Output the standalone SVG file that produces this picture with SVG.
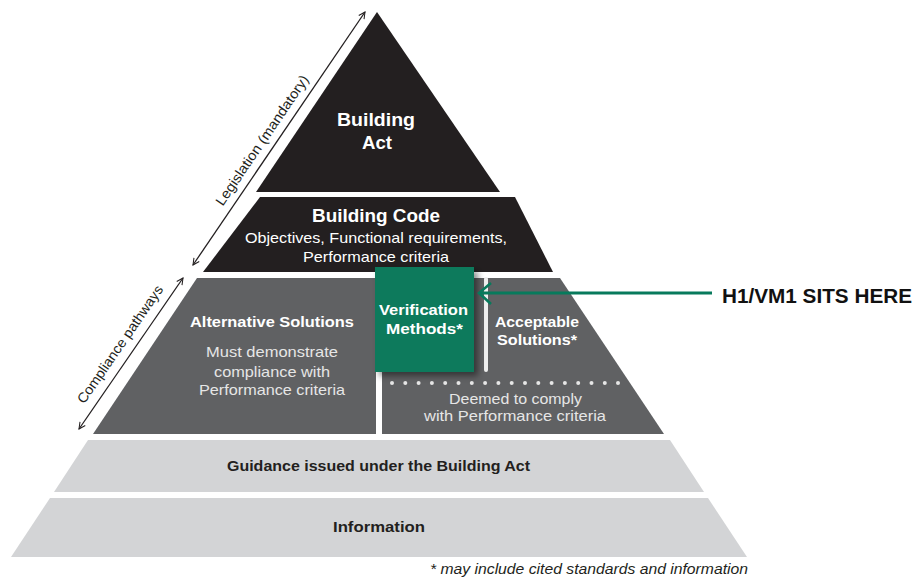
<svg xmlns="http://www.w3.org/2000/svg" width="918" height="580" viewBox="0 0 918 580">
<style>
text{font-family:"Liberation Sans",Arial,sans-serif}
.w{fill:#ffffff;font-weight:bold;text-anchor:middle}
.r{fill:#e6e6e6;text-anchor:middle;font-size:15px}
.d{fill:#231f20;font-weight:bold;text-anchor:middle;font-size:15px}
.ax{stroke:#231f20;stroke-width:1.3;fill:none}
</style>
<defs>
<marker id="ch" viewBox="0 0 10 10" refX="9" refY="5" markerWidth="8" markerHeight="8" markerUnits="userSpaceOnUse" orient="auto-start-reverse">
<path d="M1,1 L9,5 L1,9" fill="none" stroke="#231f20" stroke-width="1.3"/>
</marker>
<filter id="sh" x="-20%" y="-20%" width="150%" height="150%">
<feDropShadow dx="4" dy="4" stdDeviation="3" flood-color="#000" flood-opacity="0.45"/>
</filter>
</defs>
<rect width="918" height="580" fill="#ffffff"/>

<g id="building-act">
<polygon points="377,12 256,192 500,192" fill="#231f20"/>
<text class="w" x="376" y="126" font-size="19" textLength="78" lengthAdjust="spacingAndGlyphs">Building</text>
<text class="w" x="377" y="149" font-size="19" textLength="30" lengthAdjust="spacingAndGlyphs">Act</text>
</g>

<g id="building-code">
<polygon points="260,197 515,197 553,272 203,272" fill="#231f20"/>
<text class="w" x="376" y="222" font-size="19" textLength="128" lengthAdjust="spacingAndGlyphs">Building Code</text>
<text x="376" y="243" fill="#ffffff" text-anchor="middle" font-size="15" textLength="262" lengthAdjust="spacingAndGlyphs">Objectives, Functional requirements,</text>
<text x="376" y="262" fill="#ffffff" text-anchor="middle" font-size="15" textLength="146" lengthAdjust="spacingAndGlyphs">Performance criteria</text>
</g>

<g id="alternative-solutions">
<polygon points="197,278 376,278 376,434 93,434" fill="#606163"/>
<text class="w" x="272" y="327" font-size="15.5" textLength="164" lengthAdjust="spacingAndGlyphs">Alternative Solutions</text>
<text class="r" x="272" y="357" textLength="132" lengthAdjust="spacingAndGlyphs">Must demonstrate</text>
<text class="r" x="272" y="377" textLength="116" lengthAdjust="spacingAndGlyphs">compliance with</text>
<text class="r" x="272" y="395" textLength="146" lengthAdjust="spacingAndGlyphs">Performance criteria</text>
</g>

<g id="acceptable-solutions">
<polygon points="382,278 560,278 664,434 382,434" fill="#606163"/>
<line x1="486" y1="279" x2="486" y2="370" stroke="#eeeeee" stroke-width="4" stroke-linecap="round"/>
<text class="w" x="537" y="327" font-size="15.5" textLength="84" lengthAdjust="spacingAndGlyphs">Acceptable</text>
<text class="w" x="537" y="345" font-size="15.5" textLength="80" lengthAdjust="spacingAndGlyphs">Solutions*</text>
<g fill="#e6e6e6">
<circle cx="392" cy="383" r="2"/><circle cx="405.3" cy="383" r="2"/><circle cx="418.6" cy="383" r="2"/><circle cx="431.9" cy="383" r="2"/><circle cx="445.2" cy="383" r="2"/><circle cx="458.5" cy="383" r="2"/><circle cx="471.8" cy="383" r="2"/><circle cx="485.1" cy="383" r="2"/><circle cx="498.4" cy="383" r="2"/><circle cx="511.7" cy="383" r="2"/><circle cx="525" cy="383" r="2"/><circle cx="538.3" cy="383" r="2"/><circle cx="551.6" cy="383" r="2"/><circle cx="564.9" cy="383" r="2"/><circle cx="578.2" cy="383" r="2"/><circle cx="591.5" cy="383" r="2"/><circle cx="604.8" cy="383" r="2"/><circle cx="618" cy="383" r="2"/>
</g>
<text class="r" x="515.5" y="404" font-size="14" textLength="133" lengthAdjust="spacingAndGlyphs">Deemed to comply</text>
<text class="r" x="515" y="421" font-size="14" textLength="182" lengthAdjust="spacingAndGlyphs">with Performance criteria</text>
</g>

<g id="verification-methods">
<rect x="375" y="267" width="99" height="105" fill="#077a5c" filter="url(#sh)"/>
<text class="w" x="423.5" y="315" font-size="15.5" textLength="89" lengthAdjust="spacingAndGlyphs">Verification</text>
<text class="w" x="424.5" y="334" font-size="15.5" textLength="77" lengthAdjust="spacingAndGlyphs">Methods*</text>
</g>

<g id="guidance">
<polygon points="88,440 670,440 704,492 54,492" fill="#d3d4d6"/>
<text class="d" x="378.5" y="471" textLength="303" lengthAdjust="spacingAndGlyphs">Guidance issued under the Building Act</text>
</g>

<g id="information">
<polygon points="50,498 708,498 747,557 11,557" fill="#d3d4d6"/>
<text class="d" x="379" y="532" textLength="92" lengthAdjust="spacingAndGlyphs">Information</text>
</g>

<g id="connectors">
<line class="ax" x1="193" y1="265" x2="365" y2="12" marker-start="url(#ch)" marker-end="url(#ch)"/>
<line class="ax" x1="79" y1="429" x2="183" y2="278" marker-start="url(#ch)" marker-end="url(#ch)"/>
<line x1="712" y1="293" x2="480" y2="293" stroke="#077a5c" stroke-width="3"/>
<path d="M491,283 L479,293 L491,304" fill="none" stroke="#077a5c" stroke-width="2.6"/>
</g>

<g id="labels">
<text x="266" y="143" font-size="14" fill="#231f20" text-anchor="middle" transform="rotate(-55.8 266 143)" textLength="154" lengthAdjust="spacingAndGlyphs">Legislation (mandatory)</text>
<text x="124" y="347" font-size="14" fill="#231f20" text-anchor="middle" transform="rotate(-55.4 124 347)" textLength="140" lengthAdjust="spacingAndGlyphs">Compliance pathways</text>
<text x="912" y="303" font-size="20" font-weight="bold" fill="#111111" text-anchor="end" textLength="190" lengthAdjust="spacingAndGlyphs">H1/VM1 SITS HERE</text>
<text x="748" y="574" font-size="15" font-style="italic" fill="#231f20" text-anchor="end" textLength="318" lengthAdjust="spacingAndGlyphs">* may include cited standards and information</text>
</g>
</svg>
